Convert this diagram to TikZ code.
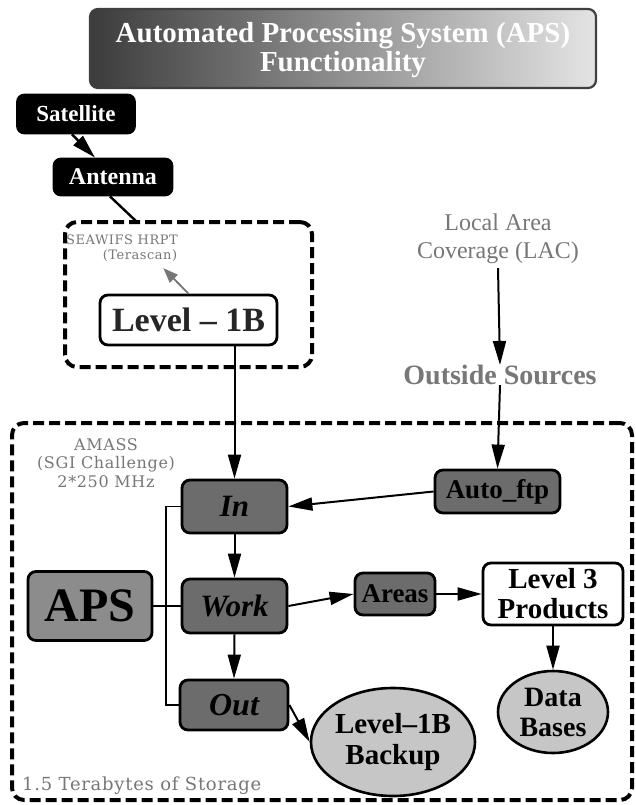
\documentclass[tikz,border=0pt]{standalone}
\usepackage{fontspec}
\setmainfont{Liberation Serif}
\newfontfamily\notefont[LetterSpace=4]{DejaVu Serif}
\usetikzlibrary{arrows.meta,shapes.geometric}

\definecolor{boxgray}{HTML}{6C6C6C}
\definecolor{apsgray}{HTML}{8C8C8C}
\definecolor{ovalgray}{HTML}{C6C6C6}
\definecolor{notegray}{HTML}{777777}
\definecolor{bannerdark}{HTML}{3C3C3C}
\definecolor{bannermid}{HTML}{8A8A8A}
\definecolor{bannerlight}{HTML}{E4E4E4}

\newcommand\fsz[2]{\fontsize{#1}{#2}\selectfont}

\tikzset{
  base/.style={draw=black, line width=2.8pt, rounded corners=8pt, inner sep=0pt,
               font=\bfseries, align=center},
  darkbox/.style={base, fill=boxgray},
  blackbox/.style={base, fill=black, text=white, rounded corners=7pt},
  whitebox/.style={base, fill=white},
  oval/.style={ellipse, draw=black, line width=2.6pt, fill=ovalgray, inner sep=0pt,
               font=\bfseries\fsz{29}{31}, align=center},
  group/.style={draw=black, line width=4pt, dash pattern=on 11pt off 5pt,
                rounded corners=12pt, inner sep=0pt},
  note/.style={text=notegray, align=center, inner sep=0pt},
  arr/.style={line width=2pt, -{Triangle[length=24pt,width=13pt]}},
  greyarr/.style={draw=notegray, fill=notegray, line width=1.8pt,
                  -{Triangle[length=15pt,width=11pt]}},
  link/.style={line width=1.8pt},
}

\begin{document}
\begin{tikzpicture}[x=1pt,y=-1pt]
  \useasboundingbox (0,0) rectangle (636,805);
  \fill[white] (0,0) rectangle (636,805);

  % title banner
  \shade[rounded corners=8pt, left color=bannerdark, middle color=bannermid,
         right color=bannerlight] (90,9) rectangle (596,88);
  \draw[rounded corners=8pt, line width=2.2pt, draw=black!75] (90,9) rectangle (596,88);
  \node[text=white, font=\bfseries\fsz{29}{29}, align=center, inner sep=0pt] (title)
    at (343,50) {Automated Processing System (APS)\\Functionality};

  % reception chain
  \node[blackbox, minimum width=117, minimum height=38, font=\bfseries\fsz{23}{26}]
    (sat) at (76,114) {Satellite};
  \node[blackbox, minimum width=118, minimum height=36, font=\bfseries\fsz{24}{26}]
    (ant) at (113,177) {Antenna};
  \draw[arr, line width=2.4pt] ([xshift=-4pt]sat.south) -- ([xshift=-18pt]ant.north);

  % SEAWIFS HRPT group
  \node[group, minimum width=247, minimum height=145] (sea) at (188.5,294.5) {};
  \coordinate (seatop) at (137,222);
  \draw[link, line width=2.4pt] ([xshift=-3pt]ant.south) -- (seatop);
  \node[note, font=\notefont\fsz{13}{15}] (seawifs) at (122,240) {SEAWIFS HRPT};
  \node[note, font=\notefont\fsz{13}{15}] (terascan) at (140,256) {(Terascan)};
  \node[whitebox, minimum width=177, minimum height=50, font=\bfseries\fsz{34}{36},
        text=black!85] (lvl) at (188.5,320) {Level -- 1B};
  \draw[greyarr] (lvl.north) -- ([xshift=-14pt,yshift=-6pt]terascan.south east);

  % outside sources
  \node[note, font=\fsz{24}{28}] (lac) at (498,239) {Local Area\\Coverage (LAC)};
  \node[note, font=\bfseries\fsz{28}{30}] (outside) at (500,375) {Outside Sources};
  \draw[arr] ([yshift=-4pt]lac.south) -- (outside.north);

  % AMASS group
  \node[group, minimum width=620, minimum height=377] (amass) at (322,611.5) {};
  \node[note, font=\notefont\fsz{16}{18.5}] (amassnote) at (106,463)
    {AMASS\\(SGI Challenge)\\2*250 MHz};
  \node[note, anchor=west, font=\notefont\fsz{18}{19}] (storage) at (22,786)
    {1.5 Terabytes of Storage};

  \node[darkbox, minimum width=105, minimum height=53, font=\bfseries\itshape\fsz{31}{33}]
    (in) at (234.5,506.5) {In};
  \node[darkbox, minimum width=105, minimum height=54, font=\bfseries\itshape\fsz{31}{33}]
    (work) at (234.5,606) {Work};
  \node[darkbox, minimum width=108, minimum height=50, font=\bfseries\itshape\fsz{32}{33}]
    (out) at (234,705) {Out};
  \node[base, fill=apsgray, minimum width=124, minimum height=69, font=\bfseries\fsz{48}{50}]
    (aps) at (90,606) {APS};
  \node[darkbox, minimum width=125, minimum height=43, font=\bfseries\fsz{27}{29}]
    (auto) at (497.5,491.5) {Auto\_ftp};
  \node[darkbox, minimum width=80, minimum height=42, font=\bfseries\fsz{27}{29}]
    (areas) at (395,594) {Areas};
  \node[whitebox, minimum width=140, minimum height=62, font=\bfseries\fsz{29}{30}]
    (lvl3) at (553,594) {Level 3\\Products};
  \node[oval, minimum width=110, minimum height=82, font=\bfseries\fsz{28}{30}]
    (db) at (553,712) {Data\\Bases};
  \node[oval, minimum width=132, minimum height=108]
    (backup) at (393,742) {Level--1B\\Backup};

  % connectors
  \draw[arr] (lvl.south -| in.north) -- (in.north);
  \draw[arr] (outside.south) -- (auto.north);
  \draw[arr] (auto.west) -- (in.east);
  \draw[arr] (in.south) -- (work.north);
  \draw[arr] (work.south) -- (out.north);
  \draw[arr] (work.east) -- (areas.west);
  \draw[arr] (areas.east) -- (lvl3.west);
  \draw[arr] (lvl3.south) -- (db.north);
  \draw[arr] (out.east) -- (backup.west);

  \coordinate (bus) at (166,606);
  \draw[link] (in.west) -| (bus) |- (out.west);
  \draw[link] (aps.east) -- (work.west);
\end{tikzpicture}
\end{document}
